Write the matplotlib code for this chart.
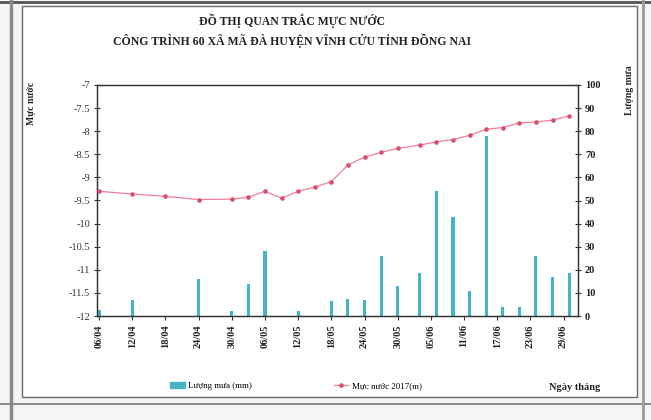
import matplotlib
matplotlib.use('Agg')
import matplotlib.pyplot as plt
from matplotlib.lines import Line2D
from matplotlib.patches import Rectangle
import pandas as pd

# water level (m), sampled roughly every 3 days
level_dates = ['06/04', '12/04', '18/04', '24/04', '30/04', '03/05', '06/05', '09/05',
               '12/05', '15/05', '18/05', '21/05', '24/05', '27/05', '30/05', '03/06',
               '06/06', '09/06', '12/06', '15/06', '18/06', '21/06', '24/06', '27/06', '30/06']
level_values = [-9.30, -9.36, -9.41, -9.48, -9.47, -9.43, -9.30, -9.45,
                -9.30, -9.21, -9.09, -8.73, -8.56, -8.46, -8.37, -8.30,
                -8.23, -8.18, -8.09, -7.96, -7.92, -7.82, -7.80, -7.76, -7.67]

# rainfall (mm)
rain_dates = ['06/04', '12/04', '24/04', '30/04', '03/05', '06/05', '12/05', '18/05',
              '21/05', '24/05', '27/05', '30/05', '03/06', '06/06', '09/06', '12/06',
              '15/06', '18/06', '21/06', '24/06', '27/06', '30/06']
rain_values = [2.5, 7, 16, 2, 14, 28, 2, 6.5,
               7.5, 7, 26, 13, 18.5, 54, 43, 11,
               78, 4, 4, 26, 17, 18.5]

tick_labels = ['06/04', '12/04', '18/04', '24/04', '30/04', '06/05', '12/05', '18/05',
               '24/05', '30/05', '05/06', '11/06', '17/06', '23/06', '29/06']

title = 'ĐỒ THỊ QUAN TRẮC MỰC NƯỚC\nCÔNG TRÌNH 60 XÃ MÃ ĐÀ HUYỆN VĨNH CỬU TỈNH ĐỒNG NAI'


class FONT:
	family = 'Liberation Serif'
	tick = 7.5
	title = 8.5
	label = 7


def to_dates(lst):
	return pd.to_datetime([d + '/2017' for d in lst], format='%d/%m/%Y')


W, H = 651, 420
fig = plt.figure(figsize=(W / 100, H / 100), dpi=100)
fig.patch.set_facecolor('#f5f5f3')

# scanned page frame
fig.add_artist(Rectangle((22 / W, 1 - 397 / H), (637 - 22) / W, (397 - 6) / H,
                         transform=fig.transFigure, facecolor='white',
                         edgecolor='#6a6a6a', lw=1.0, zorder=0))
fig.add_artist(Line2D([0, 1], [1 - 2 / H, 1 - 2 / H], transform=fig.transFigure, color='#555555', lw=2))
fig.add_artist(Line2D([0, 1], [1 - 404 / H, 1 - 404 / H], transform=fig.transFigure, color='#777777', lw=1.2))
fig.add_artist(Line2D([11 / W, 11 / W], [0, 1], transform=fig.transFigure, color='#8a8a8a', lw=2.5))
fig.add_artist(Line2D([643 / W, 643 / W], [0, 1], transform=fig.transFigure, color='#9a9a9a', lw=2))

ax = fig.add_axes([97 / W, 1 - 316 / H, (578 - 97) / W, (316 - 85) / H])
ax.set_facecolor('none')
ax2 = ax.twinx()

ax.set_zorder(2)
ax2.set_zorder(1)

x_level = to_dates(level_dates)
x_rain = to_dates(rain_dates)
x_ticks = to_dates(tick_labels)

ax2.bar(x_rain, rain_values, width=0.55, color='#45b5c6', zorder=2)
ax.plot(x_level, level_values, color='#f27f98', lw=0.9, marker='o', ms=2.3,
        mfc='#d9506e', mec='#d9506e', zorder=3)

start = pd.Timestamp('2017-04-06')
ax.set_xlim(start - pd.Timedelta(hours=9), start + pd.Timedelta(days=86.6))
ax.set_ylim(-12, -7)
ax.set_yticks([-12 + 0.5 * i for i in range(11)])
ax.set_yticklabels(['-12', '-11.5', '-11', '-10.5', '-10', '-9.5', '-9', '-8.5', '-8', '-7.5', '-7'])
ax2.set_ylim(0, 100)
ax2.set_yticks(range(0, 101, 10))

ax.set_xticks(x_ticks)
ax.set_xticklabels(tick_labels, rotation=90)

for a in (ax, ax2):
	for s in a.spines.values():
		s.set_color('#333333')
		s.set_linewidth(0.9)

ax.tick_params(axis='y', direction='inout', length=4, width=0.8, colors='#333333', pad=3)
ax.tick_params(axis='x', direction='out', length=3, width=0.8, colors='#333333', pad=3)
ax2.tick_params(axis='y', direction='inout', length=4, width=0.8, colors='#333333', pad=3)

for label in ax.get_yticklabels():
	label.set_fontname(FONT.family)
	label.set_fontsize(FONT.tick)
	label.set_color('#333333')
for label in ax.get_xticklabels() + ax2.get_yticklabels():
	label.set_fontname(FONT.family)
	label.set_fontsize(FONT.tick)
	label.set_fontweight('bold')
	label.set_color('#222222')

fig.text(292 / W, 1 - 31 / H, title, ha='center', va='center', fontsize=FONT.title,
         fontweight='bold', family=FONT.family, color='#222222', linespacing=1.5)
fig.text(31 / W, 1 - 103 / H, 'Mực nước', rotation=90, ha='center', va='center',
         fontsize=FONT.label, fontweight='bold', family=FONT.family, color='#222222')
fig.text(630 / W, 1 - 90 / H, 'Lượng mưa', rotation=90, ha='center', va='center',
         fontsize=FONT.label, fontweight='bold', family=FONT.family, color='#222222')
fig.text(600 / W, 1 - 388 / H, 'Ngày tháng', ha='right', va='center',
         fontsize=FONT.label + 0.5, fontweight='bold', family=FONT.family, color='#222222')

handles = [Rectangle((0, 0), 1, 1, color='#45b5c6'),
           Line2D([], [], color='#f27f98', lw=0.9, marker='o', ms=2.3, mfc='#d9506e', mec='#d9506e')]
fig.legend(handles, ['Lượng mưa (mm)', 'Mực nước 2017(m)'], loc='center',
           bbox_to_anchor=(296 / W, 1 - 386 / H), ncol=2, frameon=False,
           prop={'family': FONT.family, 'size': 6.5}, handlelength=1.6,
           handleheight=0.6, columnspacing=9, handletextpad=0.4)

plt.savefig('out.png', dpi=100)
